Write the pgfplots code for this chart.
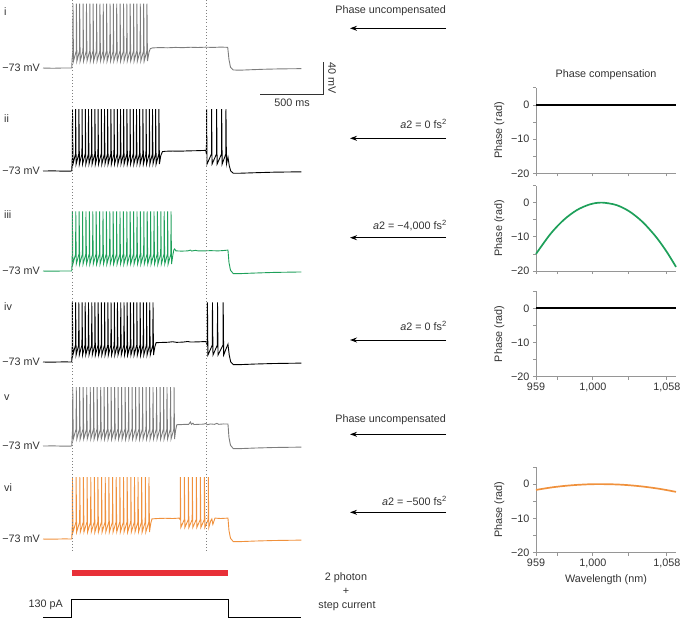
\documentclass[border=0pt]{standalone}
\usepackage{fontspec}
\setmainfont{Liberation Sans}
\usepackage{pgfplots}
\pgfplotsset{compat=1.18}
\usetikzlibrary{arrows.meta}
\definecolor{tgray}{RGB}{125,125,125}
\definecolor{tgreen}{RGB}{30,160,90}
\definecolor{torange}{RGB}{240,145,60}
\definecolor{tred}{RGB}{232,48,56}
\definecolor{txt}{RGB}{50,50,50}
\definecolor{axgray}{RGB}{150,150,150}
\newcommand\fs{\fontsize{10.8}{12.5}\selectfont}
\pgfplotsset{
 trace/.style={hide axis, x=0.126pt, y=0.775pt, xmin=-230, xmax=1820, ymin=-90, ymax=15, clip=false, anchor=south west},
 phase/.style={scale only axis, width=140pt, height=85.5pt, xmin=959, xmax=1065, ymin=-20, ymax=5,
   anchor=south west, axis lines*=left, axis line style={axgray, line width=0.7pt, -},
   tick style={axgray, line width=0.7pt}, tick align=outside, major tick length=3pt, minor tick length=3pt,
   xtick={959,975,1002,1029,1058}, xticklabels={}, ytick={-20,-10,0}, yticklabels={−20,−10,0},
   minor ytick={-15,-5,5}, ylabel={Phase (rad)}, clip=false,
   tick label style={font=\fs, text=txt}, label style={font=\fs, text=txt},
   /pgf/number format/assume math mode=true}
}
\begin{document}
\begin{tikzpicture}[font=\fs, text=txt]
\useasboundingbox (0pt,0pt) rectangle (685pt,-619pt);
% ---- trace i
\begin{axis}[trace, at={(43pt,-81.2pt)}]
\addplot[tgray, line width=0.9pt] coordinates {
(-230,-73) (-150,-73.3) (-60,-72.9) (-2,-73) (1,-62)
(7,-51) (8,10) (12,-64) (34,-51) (35,10) (39,-64) (60,-51) (61,10) (65,-64) (87,-51) (88,10) (92,-64)
(114,-51) (115,10) (119,-64) (141,-51) (142,10) (146,-64) (167,-51) (168,10) (172,-64) (194,-51) (195,10) (199,-64)
(221,-51) (222,10) (226,-64) (247,-51) (248,10) (252,-64) (274,-51) (275,10) (279,-64) (301,-51) (302,10) (306,-64)
(327,-51) (328,10) (332,-64) (354,-51) (355,10) (359,-64) (381,-51) (382,10) (386,-64) (408,-51) (409,10) (413,-64)
(434,-51) (435,10) (439,-64) (461,-51) (462,10) (466,-64) (488,-51) (489,10) (493,-64) (514,-51) (515,10) (519,-64)
(541,-51) (542,10) (546,-64) (568,-51) (569,10) (573,-64) (594,-51) (595,10) (599,-64)
(612,-52) (622,-48) (640,-47) (700,-46.6) (760,-46.9) (820,-46.4) (880,-46.7) (940,-46.2) (1000,-46.5) (1060,-46.1) (1120,-46.4) (1180,-46) (1236,-46.3)
(1246,-62) (1258,-72) (1280,-75.5) (1330,-75.8) (1420,-75.2) (1520,-74.6) (1650,-74.1) (1820,-73.8)};
\end{axis}
% ---- trace ii
\begin{axis}[trace, at={(43pt,-184.2pt)}]
\addplot[black, line width=0.9pt] coordinates {
(-230,-73) (-150,-72.8) (-60,-73.2) (-2,-73) (1,-62)
(3,-51) (4,7) (8,-64) (28,-51) (29,7) (33,-64) (54,-51) (55,7) (59,-64) (79,-51) (80,7) (84,-64)
(105,-51) (106,7) (110,-64) (130,-51) (131,7) (135,-64) (155,-51) (156,7) (160,-64) (181,-51) (182,7) (186,-64)
(206,-51) (207,7) (211,-64) (232,-51) (233,7) (237,-64) (257,-51) (258,7) (262,-64) (282,-51) (283,7) (287,-64)
(308,-51) (309,7) (313,-64) (333,-51) (334,7) (338,-64) (359,-51) (360,7) (364,-64) (384,-51) (385,7) (389,-64)
(409,-51) (410,7) (414,-64) (435,-51) (436,7) (440,-64) (460,-51) (461,7) (465,-64) (486,-51) (487,7) (491,-64)
(511,-51) (512,7) (516,-64) (536,-51) (537,7) (541,-64) (562,-51) (563,7) (567,-64) (587,-51) (588,7) (592,-64)
(613,-51) (614,7) (618,-64) (638,-51) (639,7) (643,-64) (663,-51) (664,7) (668,-64) (689,-51) (690,7) (694,-64)
(705,-53) (718,-48) (740,-47.5) (800,-47.2) (860,-47.4) (920,-47) (980,-46.8) (1040,-46.5) (1062,-46.3)
(1067,-51) (1068,7) (1072,-64) (1107,-51) (1108,7) (1112,-64) (1147,-51) (1148,7) (1152,-64) (1187,-51) (1188,7) (1192,-64) (1221,-51) (1222,7) (1226,-64)
(1238,-55) (1248,-66) (1260,-73) (1280,-75.8) (1340,-75.8) (1450,-75.2) (1600,-74.5) (1820,-74)};
\end{axis}
% ---- trace iii
\begin{axis}[trace, at={(43pt,-284.2pt)}]
\addplot[tgreen, line width=0.9pt] coordinates {
(-230,-73) (-150,-73.2) (-60,-72.9) (-2,-73) (1,-62) (2,-51) (3,4) (7,-64)
(29,-51) (30,4) (34,-64) (56,-51) (57,4) (61,-64) (83,-51) (84,4) (88,-64) (110,-51) (111,4) (115,-64)
(137,-51) (138,4) (142,-64) (164,-51) (165,4) (169,-64) (191,-51) (192,4) (196,-64) (218,-51) (219,4) (223,-64)
(245,-51) (246,4) (250,-64) (272,-51) (273,4) (277,-64) (299,-51) (300,4) (304,-64) (326,-51) (327,4) (331,-64)
(353,-51) (354,4) (358,-64) (380,-51) (381,4) (385,-64) (407,-51) (408,4) (412,-64) (434,-51) (435,4) (439,-64)
(461,-51) (462,4) (466,-64) (488,-51) (489,4) (493,-64) (515,-51) (516,4) (520,-64) (542,-51) (543,4) (547,-64)
(569,-51) (570,4) (574,-64) (596,-51) (597,4) (601,-64) (623,-51) (624,4) (628,-64) (650,-51) (651,4) (655,-64)
(677,-51) (678,4) (682,-64) (704,-51) (705,4) (709,-64) (731,-51) (732,4) (736,-64) (758,-51) (759,4) (763,-64)
(785,-51) (786,4) (790,-64)
(800,-53) (808,-46) (815,-44.5) (825,-47) (870,-47.3) (920,-47) (940,-46) (950,-47.2) (980,-46.3) (1000,-47) (1050,-47) (1100,-46.7) (1160,-47) (1200,-46.6) (1238,-46)
(1246,-62) (1258,-72) (1280,-76.3) (1340,-76.3) (1450,-75.6) (1600,-74.8) (1820,-74.2)};
\end{axis}
% ---- trace iv
\begin{axis}[trace, at={(43pt,-375.2pt)}]
\addplot[black, line width=0.9pt] coordinates {
(-230,-73) (-150,-73.1) (-60,-72.8) (-2,-73) (1,-62) (2,-51) (3,4) (7,-64)
(28,-51) (29,4) (33,-64) (53,-51) (54,4) (58,-64) (79,-51) (80,4) (84,-64) (104,-51) (105,4) (109,-64)
(130,-51) (131,4) (135,-64) (156,-51) (157,4) (161,-64) (181,-51) (182,4) (186,-64) (207,-51) (208,4) (212,-64)
(232,-51) (233,4) (237,-64) (258,-51) (259,4) (263,-64) (284,-51) (285,4) (289,-64) (309,-51) (310,4) (314,-64)
(335,-51) (336,4) (340,-64) (360,-51) (361,4) (365,-64) (386,-51) (387,4) (391,-64) (412,-51) (413,4) (417,-64)
(437,-51) (438,4) (442,-64) (463,-51) (464,4) (468,-64) (488,-51) (489,4) (493,-64) (514,-51) (515,4) (519,-64)
(540,-51) (541,4) (545,-64) (565,-51) (566,4) (570,-64) (591,-51) (592,4) (596,-64) (616,-51) (617,4) (621,-64)
(642,-51) (643,4) (647,-64)
(658,-53) (668,-48) (700,-47.8) (760,-47.5) (800,-46.8) (830,-47.6) (880,-47.3) (920,-46.5) (940,-47.2) (1000,-47) (1062,-46.5)
(1074,-51) (1075,4) (1079,-64) (1114,-51) (1115,4) (1119,-64) (1154,-51) (1155,4) (1159,-64) (1199,-51) (1200,4) (1204,-64)
(1225,-55) (1238,-50) (1248,-64) (1260,-73) (1280,-76.3) (1340,-76.3) (1450,-75.6) (1600,-74.9) (1820,-74.4)};
\end{axis}
% ---- trace v
\begin{axis}[trace, at={(43pt,-459.2pt)}]
\addplot[tgray, line width=0.9pt] coordinates {
(-230,-73) (-150,-72.8) (-60,-73.2) (-2,-73) (1,-62) (5,-51) (6,3) (10,-64)
(33,-51) (34,3) (38,-64) (60,-51) (61,3) (65,-64) (88,-51) (89,3) (93,-64) (116,-51) (117,3) (121,-64)
(144,-51) (145,3) (149,-64) (171,-51) (172,3) (176,-64) (199,-51) (200,3) (204,-64) (227,-51) (228,3) (232,-64)
(254,-51) (255,3) (259,-64) (282,-51) (283,3) (287,-64) (310,-51) (311,3) (315,-64) (338,-51) (339,3) (343,-64)
(365,-51) (366,3) (370,-64) (393,-51) (394,3) (398,-64) (421,-51) (422,3) (426,-64) (448,-51) (449,3) (453,-64)
(476,-51) (477,3) (481,-64) (504,-51) (505,3) (509,-64) (532,-51) (533,3) (537,-64) (559,-51) (560,3) (564,-64)
(587,-51) (588,3) (592,-64) (615,-51) (616,3) (620,-64) (642,-51) (643,3) (647,-64) (670,-51) (671,3) (675,-64)
(698,-51) (699,3) (703,-64) (726,-51) (727,3) (731,-64) (753,-51) (754,3) (758,-64) (781,-51) (782,3) (786,-64)
(809,-51) (810,3) (814,-64)
(822,-53) (832,-45.5) (870,-45.3) (900,-45) (925,-45.2) (940,-42) (948,-45) (960,-43.5) (968,-45.3) (1000,-45) (1040,-44.8) (1063,-44) (1075,-45.5) (1100,-44.5) (1130,-45) (1150,-43.8) (1165,-45) (1200,-44.5) (1238,-44.6)
(1246,-62) (1258,-72) (1280,-76.3) (1340,-76.3) (1450,-75.6) (1600,-74.9) (1820,-74.4)};
\end{axis}
% ---- trace vi
\begin{axis}[trace, at={(43pt,-552.2pt)}]
\addplot[torange, line width=0.9pt] coordinates {
(-230,-73) (-150,-73.2) (-60,-72.8) (-2,-73) (1,-62) (3,-51) (4,7) (8,-64)
(32,-51) (33,7) (37,-64) (61,-51) (62,7) (66,-64) (90,-51) (91,7) (95,-64) (119,-51) (120,7) (124,-64)
(148,-51) (149,7) (153,-64) (177,-51) (178,7) (182,-64) (205,-51) (206,7) (210,-64) (234,-51) (235,7) (239,-64)
(263,-51) (264,7) (268,-64) (292,-51) (293,7) (297,-64) (321,-51) (322,7) (326,-64) (350,-51) (351,7) (355,-64)
(379,-51) (380,7) (384,-64) (408,-51) (409,7) (413,-64) (437,-51) (438,7) (442,-64) (466,-51) (467,7) (471,-64)
(495,-51) (496,7) (500,-64) (523,-51) (524,7) (528,-64) (552,-51) (553,7) (557,-64) (581,-51) (582,7) (586,-64)
(610,-51) (611,7) (615,-64)
(625,-53) (635,-47) (680,-46.5) (740,-46.2) (800,-46.5) (850,-46)
(859,-48) (860,7) (864,-58) (891,-48) (892,7) (896,-58) (923,-48) (924,7) (928,-58) (954,-48) (955,7) (959,-58)
(986,-48) (987,7) (991,-58) (1018,-48) (1019,7) (1023,-58) (1050,-48) (1051,7) (1055,-58) (1081,-48) (1082,7) (1086,-58)
(1100,-50) (1110,-47) (1118,-54) (1135,-46) (1180,-46.5) (1238,-46)
(1246,-62) (1258,-72) (1280,-76.3) (1340,-76.3) (1450,-75.6) (1600,-74.9) (1820,-74.4)};
\end{axis}
% ---- light bar and step current
\begin{axis}[hide axis, x=0.126pt, y=0.1385pt, xmin=-230, xmax=1820, ymin=-20, ymax=340, clip=false, anchor=south west, at={(43pt,-619.77pt)}]
\addplot[tred, line width=6pt] coordinates {(0,318) (1240,318)};
\addplot[black, line width=1pt] coordinates {(-230,0) (0,0) (0,130) (1240,130) (1240,0) (1820,0)};
\end{axis}
% ---- phase panels
\begin{axis}[phase, at={(536pt,-173.3pt)}]
\addplot[black, line width=1.7pt] coordinates {(959,0) (1065,0)};
\end{axis}
\begin{axis}[phase, at={(536pt,-271pt)}]
\addplot[tgreen, line width=1.7pt, smooth] coordinates {(959,-15) (970,-9.13) (980,-5.05) (990,-2.17) (1000,-0.49) (1009,0) (1020,-0.73) (1030,-2.65) (1040,-5.77) (1050,-10.09) (1058,-14.4) (1065,-18.8)};
\end{axis}
\begin{axis}[phase, at={(536pt,-376.7pt)}, xticklabels={959,,{1,000},,{1,058}}]
\addplot[black, line width=1.7pt] coordinates {(959,0) (1065,0)};
\end{axis}
\begin{axis}[phase, at={(536pt,-552.5pt)}, xticklabels={959,,{1,000},,{1,058}}, xlabel={Wavelength (nm)}]
\addplot[torange, line width=1.7pt, smooth] coordinates {(959,-1.7) (970,-1.01) (980,-0.55) (990,-0.23) (1000,-0.04) (1008,0) (1020,-0.1) (1030,-0.34) (1040,-0.72) (1050,-1.23) (1058,-1.75) (1065,-2.27)};
\end{axis}
% ---- annotations
\begin{scope}[x=1pt,y=-1pt]
\draw[gray, line width=0.8pt, dash pattern=on 0.9pt off 2.3pt] (72,0) -- (72,552);
\draw[gray, line width=0.8pt, dash pattern=on 0.9pt off 2.3pt] (206,0) -- (206,552);
\foreach \lab/\yy in {i/12, ii/119, iii/215, iv/307, v/398, vi/488}
  \node[anchor=west, inner sep=0pt] at (4,\yy) {\lab};
\foreach \yy in {68,171,271,362,446,539}
  \node[anchor=east, inner sep=0pt] at (40,\yy) {−73 mV};
\node[anchor=east, inner sep=0pt] at (63,605) {130 pA};
% scale bar
\draw[txt, line width=0.9pt] (260,94) -- (323,94) -- (323,62);
\node[inner sep=0pt, rotate=-90] at (332,78) {40 mV};
\node[inner sep=0pt] at (292,103) {500 ms};
% arrows and labels
\foreach \ya in {28.3,138.3,237.7,340,434.3,512.3}
  \draw[black, line width=1pt, -{Stealth[length=7pt,width=5pt]}] (446,\ya) -- (350,\ya);
\node[anchor=east, inner sep=0pt] at (446,11) {Phase uncompensated};
\node[anchor=east, inner sep=0pt] at (447,123.5) {\textit{a}2 = 0 fs\textsuperscript{2}};
\node[anchor=east, inner sep=0pt] at (447,225.7) {\textit{a}2 = −4,000 fs\textsuperscript{2}};
\node[anchor=east, inner sep=0pt] at (447,326) {\textit{a}2 = 0 fs\textsuperscript{2}};
\node[anchor=east, inner sep=0pt] at (446,420) {Phase uncompensated};
\node[anchor=east, inner sep=0pt] at (447,500.7) {\textit{a}2 = −500 fs\textsuperscript{2}};
\node[inner sep=0pt] at (346,578) {2 photon};
\node[inner sep=0pt] at (346,591) {+};
\node[inner sep=0pt] at (347,606) {step current};
\node[inner sep=0pt] at (606,75) {Phase compensation};
\end{scope}
\end{tikzpicture}
\end{document}
